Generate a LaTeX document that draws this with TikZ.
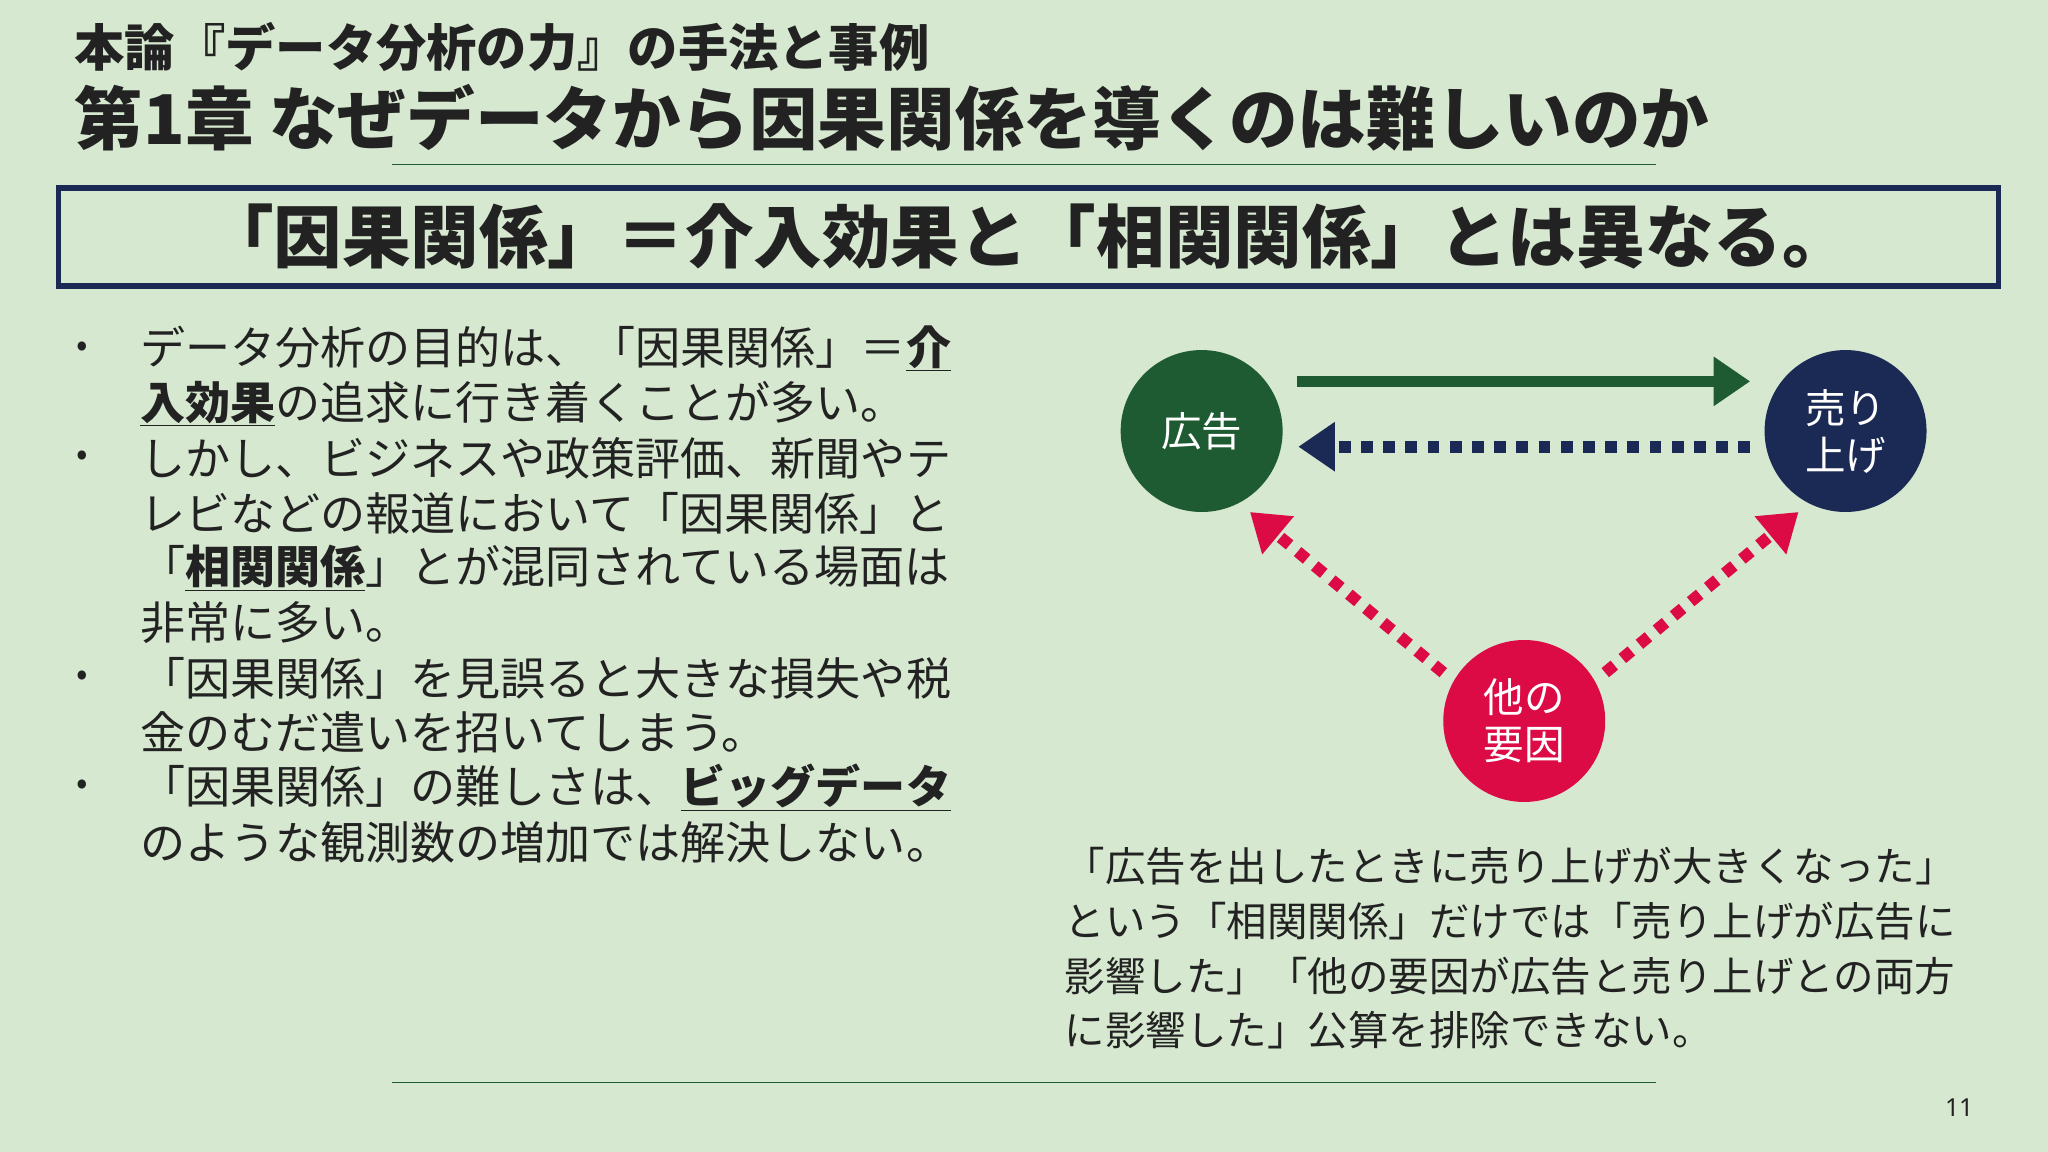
\documentclass[tikz,border=0pt]{standalone}
\usepackage{fontspec}
\setmainfont{Noto Sans CJK JP}
\newfontfamily\numfont{Noto Sans}
\usetikzlibrary{arrows.meta}
\definecolor{bg}{HTML}{D6E8CF}
\definecolor{dgreen}{HTML}{1E5B32}
\definecolor{navy}{HTML}{1B2A55}
\definecolor{crim}{HTML}{DC0A45}
\definecolor{txt}{HTML}{222222}
\newcommand{\ulb}[1]{\underline{\textbf{#1}}}
\tikzset{
 bodyline/.style={anchor=west,inner sep=0,font=\fontsize{34.5}{34.5}\selectfont,text=txt},
 capline/.style={anchor=west,inner sep=0,font=\fontsize{31}{31}\selectfont,text=txt},
 bul/.style={anchor=center,inner sep=0,font=\fontsize{26}{26}\selectfont,text=txt},
 circ/.style={circle,minimum size=124pt,inner sep=0,text=white,align=center,font=\fontsize{31}{36}\selectfont},
 bigarrow/.style={line width=9pt,-{Triangle[length=28pt,width=36pt]}},
 dotarrow/.style={line width=9pt,dash pattern=on 9pt off 8pt,-{Triangle[length=28pt,width=36pt]}}
}
\begin{document}
\begin{tikzpicture}[x=1pt,y=-1pt]
\fill[bg] (0,0) rectangle (1568,882);
\useasboundingbox (0,0) rectangle (1568,882);
\node[anchor=west,inner sep=0,font=\bfseries\fontsize{38.5}{38.5}\selectfont,text=txt] (t1) at (57,36) {本論『データ分析の力』の手法と事例};
\node[anchor=west,inner sep=0,font=\bfseries\fontsize{52.5}{52.5}\selectfont,text=txt] (t2) at (57,90) {第1章 なぜデータから因果関係を導くのは難しいのか};
\draw[dgreen,line width=1pt] (300,126) -- (1268,126);
\draw[navy,line width=4pt] (45,144) rectangle (1530,219);
\node[inner sep=0,font=\bfseries\fontsize{52.5}{52.5}\selectfont,text=txt] (hl) at (787,181) {「因果関係」＝介入効果と「相関関係」とは異なる。};
% bullets
\foreach \y in {267,351,519,603} \node[bul] at (63,\y) {•};
\node[bodyline] (b1) at (107,267) {データ分析の目的は、「因果関係」＝\ulb{介}};
\node[bodyline] (b2) at (107,309) {\ulb{入効果}の追求に行き着くことが多い。};
\node[bodyline] (b3) at (107,351) {しかし、ビジネスや政策評価、新聞やテ};
\node[bodyline] (b4) at (107,393) {レビなどの報道において「因果関係」と};
\node[bodyline] (b5) at (107,435) {「\ulb{相関関係}」とが混同されている場面は};
\node[bodyline] (b6) at (107,477) {非常に多い。};
\node[bodyline] (b7) at (107,519) {「因果関係」を見誤ると大きな損失や税};
\node[bodyline] (b8) at (107,561) {金のむだ遣いを招いてしまう。};
\node[bodyline] (b9) at (107,603) {「因果関係」の難しさは、\ulb{ビッグデータ}};
\node[bodyline] (b10) at (107,645) {のような観測数の増加では解決しない。};
% diagram
\node[circ,fill=dgreen] (ad) at (920,330) {広告};
\node[circ,fill=navy] (sales) at (1413,330) {売り\\上げ};
\node[circ,fill=crim] (oth) at (1167,552) {他の\\要因};
\coordinate (g1) at (993,292);
\coordinate (g2) at (1340,292);
\coordinate (n1) at (1340,342);
\coordinate (n2) at (994,342);
\coordinate (r1) at (1105,515);
\coordinate (r2) at (957,392);
\coordinate (r3) at (1229,515);
\coordinate (r4) at (1377,392);
\draw[bigarrow,dgreen] (g1) -- (g2);
\draw[dotarrow,navy] (n1) -- (n2);
\draw[dotarrow,crim] (r1) -- (r2);
\draw[dotarrow,crim] (r3) -- (r4);
% caption
\node[capline] (c1) at (815,663) {「広告を出したときに売り上げが大きくなった」};
\node[capline] (c2) at (815,705) {という「相関関係」だけでは「売り上げが広告に};
\node[capline] (c3) at (815,747) {影響した」「他の要因が広告と売り上げとの両方};
\node[capline] (c4) at (815,789) {に影響した」公算を排除できない。};
\draw[dgreen,line width=1pt] (300,829) -- (1268,829);
\node[inner sep=0,font=\numfont\fontsize{19}{19}\selectfont,text=txt] (pg) at (1500,848) {11};
\end{tikzpicture}
\end{document}
